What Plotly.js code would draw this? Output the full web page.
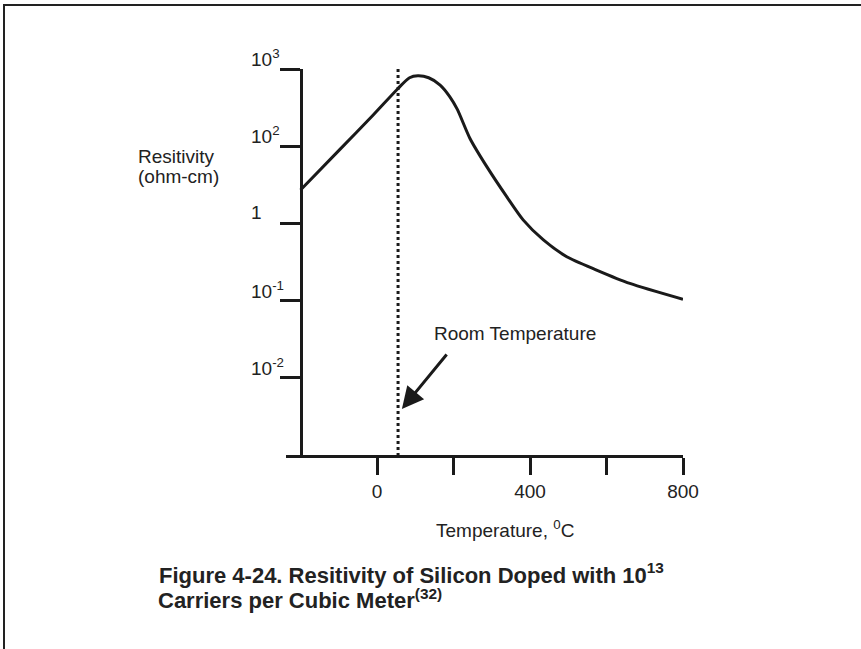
<!DOCTYPE html>
<html>
<head>
<meta charset="utf-8">
<script src="https://cdn.plot.ly/plotly-3.0.1.min.js"></script>
<style>
  html, body { margin: 0; padding: 0; background: #fff; }
  #wrap { position: relative; width: 861px; height: 649px; overflow: hidden; }
  #chart { position: absolute; left: 0; top: 0; width: 861px; height: 649px; }
  .frame-top { position: absolute; left: 3px; top: 4px; width: 858px; height: 2px; background: #222; }
  .frame-left { position: absolute; left: 3px; top: 4px; width: 2px; height: 645px; background: #222; }
</style>
</head>
<body>
<div id="wrap">
  <div id="chart"></div>
  <div class="frame-top"></div>
  <div class="frame-left"></div>
</div>
<script>
// ---- data ----
const temperatureC = [-200, -97, -10, 55, 85, 107, 135, 165, 190, 210, 243, 287, 339, 382, 435, 496, 574, 661, 800];
const resistivity  = [27.1, 91, 254, 560, 770, 815, 770, 620, 440, 300, 126, 54.3, 22.2, 11.1, 6.1, 3.70, 2.49, 1.67, 1.04];

const roomTempX = [55, 55];
const roomTempY = [1000, 0.01];

const xTickVals = [0, 200, 400, 600, 800];
const xTickText = ['0', '', '400', '', '800'];

const yTickVals = [1000, 100, 10, 1, 0.1];
const yTickText = ['10<sup>3</sup>', '10<sup>2</sup>', '1', '10<sup>-1</sup>', '10<sup>-2</sup>'];

const titleLines = [
  '<b>Figure 4-24. Resitivity of Silicon Doped with 10<sup>13</sup></b>',
  '<b>Carriers per Cubic Meter<sup>(32)</sup></b>'
];

const xRange = [-238, 800];
const yAxisAt = -200;

// ---- layout helpers (pixel -> paper) ----
const L = 286, R = 683, T = 69, B = 455;
const px = v => (v - L) / (R - L);
const py = v => (B - v) / (B - T);

const font = 'Liberation Sans, Arial, Helvetica, sans-serif';
const ink = '#1a1a1a';

const traces = [
  {
    x: temperatureC, y: resistivity, type: 'scatter', mode: 'lines',
    line: { color: ink, width: 3, shape: 'spline', smoothing: 0.7 },
    hoverinfo: 'skip', cliponaxis: false
  },
  {
    x: roomTempX, y: roomTempY, type: 'scatter', mode: 'lines',
    line: { color: ink, width: 3, dash: 'dot' },
    hoverinfo: 'skip', cliponaxis: false
  }
];

const annotations = [];
yTickVals.forEach((v, i) => {
  annotations.push({
    xref: 'paper', yref: 'y', x: px(249), y: Math.log10(v),
    xanchor: 'left', yanchor: 'middle', yshift: 11,
    text: yTickText[i], showarrow: false,
    font: { family: font, size: 19, color: '#222' }
  });
});
annotations.push(
  { xref: 'paper', yref: 'paper', x: px(136), y: py(156), xanchor: 'left', yanchor: 'middle',
    text: 'Resitivity', showarrow: false, font: { family: font, size: 19, color: '#222' } },
  { xref: 'paper', yref: 'paper', x: px(136), y: py(176), xanchor: 'left', yanchor: 'middle',
    text: '(ohm-cm)', showarrow: false, font: { family: font, size: 19, color: '#222' } },
  { xref: 'paper', yref: 'paper', x: px(434), y: py(529), xanchor: 'left', yanchor: 'middle',
    text: 'Temperature, <sup>0</sup>C', showarrow: false, font: { family: font, size: 19, color: '#222' } },
  { xref: 'x', yref: 'y', x: 143, y: -0.42, xanchor: 'left', yanchor: 'middle',
    text: 'Room Temperature', showarrow: false, font: { family: font, size: 19, color: '#222' } },
  { xref: 'x', yref: 'y', x: 65, y: Math.log10(0.0394), ax: 46, ay: -56, text: '',
    showarrow: true, arrowhead: 2, arrowsize: 1.45, arrowwidth: 3, arrowcolor: ink, standoff: 0 },
  { xref: 'paper', yref: 'paper', x: px(156), y: py(599), xanchor: 'left', yanchor: 'middle',
    text: titleLines[1], showarrow: false, font: { family: font, size: 22, color: '#222' } }
);

const layout = {
  width: 861, height: 649,
  margin: { l: L, r: 861 - R, t: T, b: 649 - B, pad: 0 },
  paper_bgcolor: '#fff', plot_bgcolor: '#fff',
  showlegend: false,
  font: { family: font, size: 19, color: '#222' },
  title: {
    text: titleLines[0],
    xref: 'container', yref: 'container', x: 159 / 861, xanchor: 'left',
    y: 1 - 575 / 649, yanchor: 'middle',
    font: { family: font, size: 22, color: '#222' }
  },
  xaxis: {
    range: xRange, showgrid: false, zeroline: false,
    showline: true, linecolor: ink, linewidth: 3,
    ticks: 'outside', ticklen: 17, tickwidth: 3, tickcolor: ink,
    tickvals: xTickVals, ticktext: xTickText,
    tickfont: { family: font, size: 19, color: '#222' },
    fixedrange: true
  },
  yaxis: {
    type: 'log', range: [-2, 3], showgrid: false, zeroline: false,
    anchor: 'free', position: (yAxisAt - xRange[0]) / (xRange[1] - xRange[0]),
    showline: true, linecolor: ink, linewidth: 3,
    ticks: 'outside', ticklen: 20, tickwidth: 3, tickcolor: ink,
    tickvals: yTickVals, showticklabels: false,
    fixedrange: true
  },
  annotations: annotations
};

Plotly.newPlot('chart', traces, layout, { staticPlot: true, displayModeBar: false });
</script>
</body>
</html>
